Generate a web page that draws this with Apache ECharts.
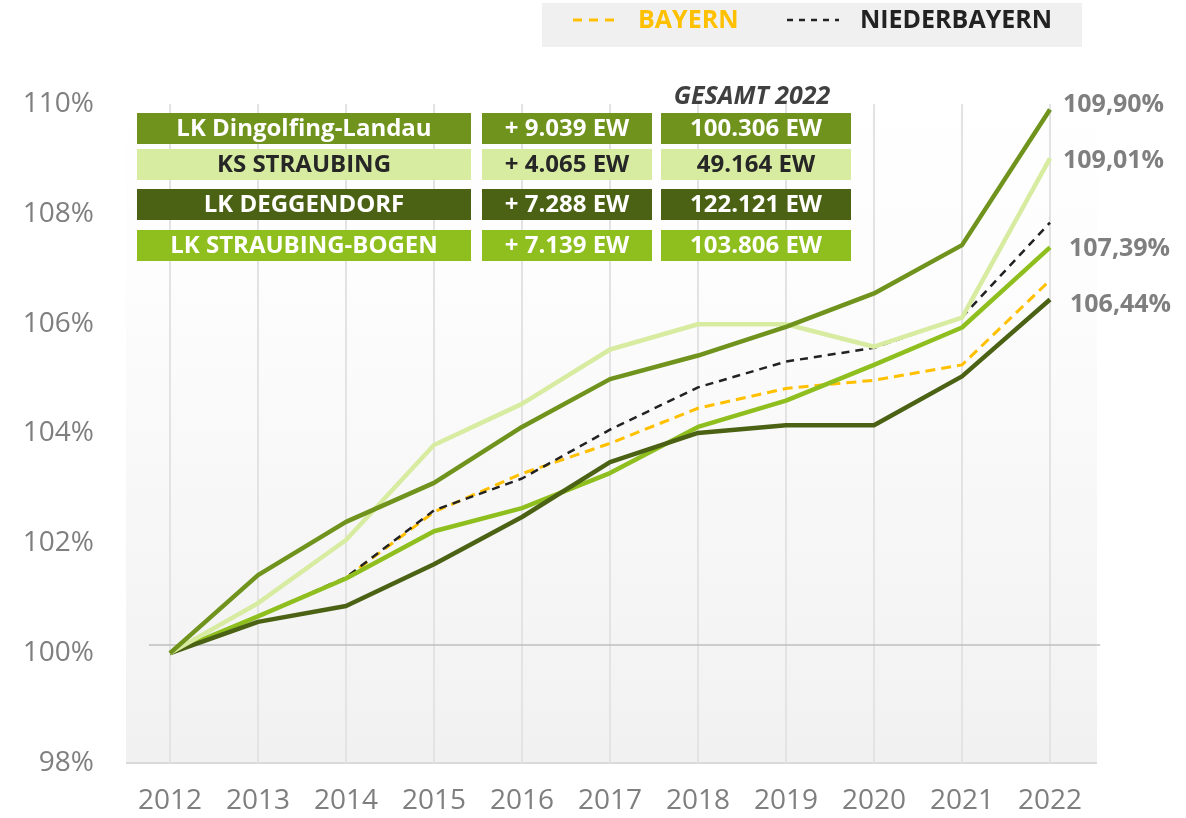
<!DOCTYPE html>
<html><head><meta charset="utf-8">
<script src="https://cdn.jsdelivr.net/npm/echarts@6/dist/echarts.min.js"></script>
<style>html,body{margin:0;padding:0;background:#fff}#c{width:1186px;height:818px}</style>
</head><body><div id="c"></div>
<script>
// ---- data ----
const years = ['2012','2013','2014','2015','2016','2017','2018','2019','2020','2021','2022'];
const dingolfing     = [100, 101.42, 102.39, 103.10, 104.12, 104.99, 105.42, 105.94, 106.55, 107.43, 109.90];
const ksStraubing    = [100, 100.91, 102.06, 103.79, 104.54, 105.53, 105.99, 105.99, 105.58, 106.11, 109.01];
const deggendorf     = [100, 100.57, 100.86, 101.62, 102.48, 103.48, 104.01, 104.15, 104.15, 105.04, 106.44];
const straubingBogen = [100, 100.67, 101.36, 102.22, 102.64, 103.28, 104.12, 104.60, 105.25, 105.93, 107.39];
const niederbayern   = [100, 100.67, 101.38, 102.60, 103.18, 104.07, 104.84, 105.31, 105.56, 106.12, 107.84];
const bayern         = [100, 100.67, 101.37, 102.57, 103.27, 103.82, 104.46, 104.82, 104.97, 105.25, 106.79];
const yMin = 98, yMax = 110, yStep = 2;
const baseLineValue = 100.15;
const boxNames  = ['LK Dingolfing-Landau','KS STRAUBING','LK DEGGENDORF','LK STRAUBING-BOGEN'];
const boxGrowth = ['+ 9.039 EW','+ 4.065 EW','+ 7.288 EW','+ 7.139 EW'];
const boxTotal  = ['100.306 EW','49.164 EW','122.121 EW','103.806 EW'];
const boxHeader = 'GESAMT 2022';
const legendNames = ['BAYERN','NIEDERBAYERN'];

// ---- styles ----
const FONT = '"Open Sans", "DejaVu Sans", sans-serif';
const C_DING = '#6f931c', C_KS = '#d7eca0', C_DEG = '#4b6214', C_SB = '#8fbf1f';
const C_BAY = '#ffc000', C_NB = '#222222';
const boxFill = [C_DING, C_KS, C_DEG, C_SB];
const boxText = ['#ffffff', '#262626', '#ffffff', '#ffffff'];
const rowTops = [113, 149, 189, 230];
const colLeft = [137, 482, 661], colWidth = [334, 170, 190];

function endLabel(dx, dy) {
  return {
    show: true, distance: dx, offset: [0, dy],
    formatter: p => Number(p.value).toFixed(2).replace('.', ',') + '%',
    color: '#7f7f7f', fontWeight: 'bold', fontSize: 25, fontFamily: FONT
  };
}

const chart = echarts.init(document.getElementById('c'), null, {renderer: 'canvas'});
const lineSeries = (name, data, color, width, type, z, lab) => ({
  name, type: 'line', data, symbol: 'none', showSymbol: false, smooth: false, z,
  lineStyle: {color, width, type, cap: 'butt', join: 'round'},
  itemStyle: {color}, emphasis: {disabled: true}, animation: false,
  endLabel: lab || {show: false}
});

chart.setOption({
  animation: false,
  backgroundColor: '#ffffff',
  textStyle: {fontFamily: FONT},
  grid: {left: 170, right: 136, top: 104, bottom: 55, containLabel: false, outerBoundsMode: 'none'},
  xAxis: {
    type: 'category', data: years, boundaryGap: false,
    axisLine: {show: false}, axisTick: {show: false},
    axisLabel: {interval: 0, margin: 24, fontSize: 28, color: '#7f7f7f', fontFamily: FONT},
    splitLine: {show: true, lineStyle: {color: '#e3e3e3', width: 2}}
  },
  yAxis: {
    type: 'value', min: yMin, max: yMax, interval: yStep,
    axisLine: {show: false}, axisTick: {show: false}, splitLine: {show: false},
    axisLabel: {margin: 76, fontSize: 28, color: '#7f7f7f', fontFamily: FONT, formatter: v => v + '%'}
  },
  series: [
    lineSeries('BAYERN', bayern, C_BAY, 3, [10, 6], 2),
    lineSeries('NIEDERBAYERN', niederbayern, C_NB, 2.5, [8, 6], 3),
    lineSeries('LK STRAUBING-BOGEN', straubingBogen, C_SB, 4.5, 'solid', 4, endLabel(19, 2)),
    lineSeries('LK DEGGENDORF', deggendorf, C_DEG, 4.5, 'solid', 5, endLabel(20, 5)),
    lineSeries('KS STRAUBING', ksStraubing, C_KS, 4.5, 'solid', 6, endLabel(13, 3)),
    lineSeries('LK Dingolfing-Landau', dingolfing, C_DING, 4.5, 'solid', 7, endLabel(13, -5))
  ]
});

// ---- decorations computed from the axes ----
const x0 = chart.convertToPixel({xAxisIndex: 0}, 0);
const x1 = chart.convertToPixel({xAxisIndex: 0}, years.length - 1);
const band = (x1 - x0) / (years.length - 1);
const yBottom = chart.convertToPixel({yAxisIndex: 0}, yMin);
const yBase = chart.convertToPixel({yAxisIndex: 0}, baseLineValue);
const bgLeft = x0 - band / 2, bgRight = x1 + band / 2 + 3, bgTop = 55;

const graphics = [];
graphics.push({
  type: 'rect', z: -10, silent: true,
  shape: {x: bgLeft, y: bgTop, width: bgRight - bgLeft, height: yBottom - bgTop},
  style: {fill: new echarts.graphic.LinearGradient(0, 0, 0, 1, [
    {offset: 0, color: '#ffffff'}, {offset: 0.3, color: '#fdfdfd'}, {offset: 1, color: '#f1f1f1'}])}
});
graphics.push({
  type: 'line', z: -5, silent: true,
  shape: {x1: bgLeft, y1: yBottom, x2: bgRight, y2: yBottom},
  style: {stroke: '#dadada', lineWidth: 2}
});
graphics.push({
  type: 'line', z: 1, silent: true,
  shape: {x1: x0 - band * 0.24, y1: yBase, x2: x1 + band * 0.57, y2: yBase},
  style: {stroke: '#bfbfbf', lineWidth: 1.5}
});

// info boxes
const cols = [boxNames, boxGrowth, boxTotal];
for (let r = 0; r < boxNames.length; r++) {
  for (let c = 0; c < 3; c++) {
    graphics.push({
      type: 'rect', z: 100, silent: true,
      shape: {x: colLeft[c], y: rowTops[r], width: colWidth[c], height: 31},
      style: {fill: boxFill[r]}
    });
    graphics.push({
      type: 'text', z: 101, silent: true,
      x: colLeft[c] + colWidth[c] / 2, y: rowTops[r] + 16,
      style: {text: cols[c][r], fill: boxText[r], font: 'bold 24px ' + FONT, align: 'center', verticalAlign: 'middle'}
    });
  }
}
graphics.push({
  type: 'text', z: 101, silent: true, x: colLeft[2] + colWidth[2] / 2 - 4, y: 97,
  style: {text: boxHeader, fill: '#404040', font: 'italic bold 25px ' + FONT, align: 'center', verticalAlign: 'middle'}
});

// legend
graphics.push({type: 'rect', z: 100, silent: true, shape: {x: 542, y: 3, width: 540, height: 44}, style: {fill: '#f0f0f0'}});
graphics.push({type: 'line', z: 101, silent: true, shape: {x1: 573, y1: 20, x2: 621, y2: 20},
  style: {stroke: C_BAY, lineWidth: 3, lineDash: [9, 7]}});
graphics.push({type: 'text', z: 101, silent: true, x: 638, y: 21,
  style: {text: legendNames[0], fill: C_BAY, font: 'bold 25px ' + FONT, verticalAlign: 'middle'}});
graphics.push({type: 'line', z: 101, silent: true, shape: {x1: 787, y1: 20, x2: 839, y2: 20},
  style: {stroke: C_NB, lineWidth: 2.5, lineDash: [6, 6]}});
graphics.push({type: 'text', z: 101, silent: true, x: 860, y: 21,
  style: {text: legendNames[1], fill: C_NB, font: 'bold 25px ' + FONT, verticalAlign: 'middle'}});

chart.setOption({graphic: {elements: graphics}});
</script></body></html>
